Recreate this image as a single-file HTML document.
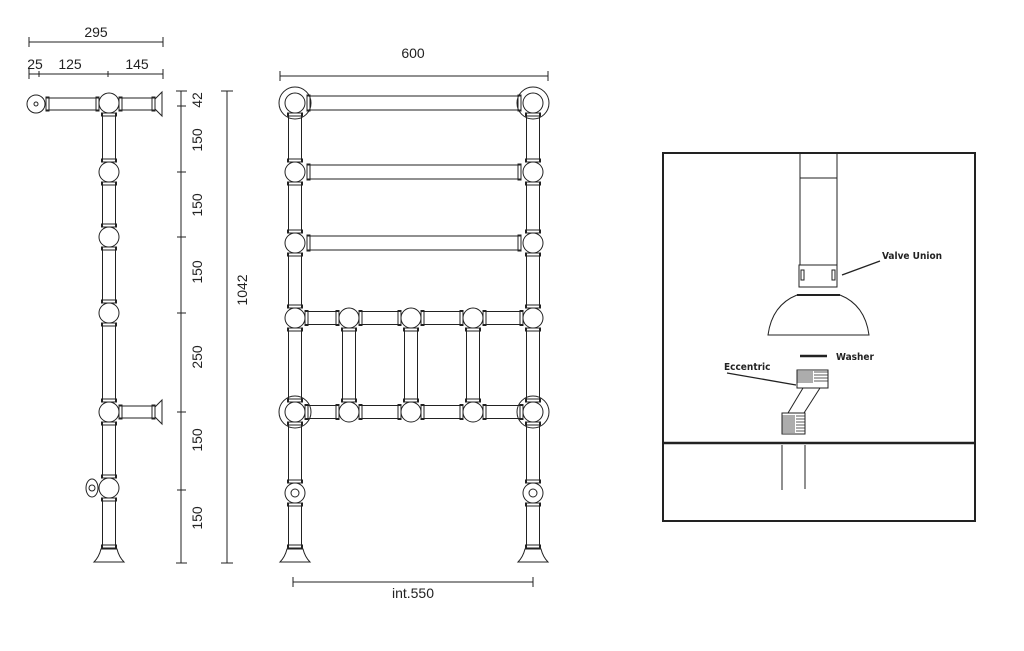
<!DOCTYPE html>
<html><head><meta charset="utf-8"><style>
html,body{margin:0;padding:0;background:#fff;}
svg{display:block;}
text{font-family:"Liberation Sans",sans-serif;fill:#222;}
.d{font-size:14px;}
.l{font-size:10px;font-weight:bold;font-family:"DejaVu Sans Condensed","Liberation Sans Narrow","Liberation Sans",sans-serif;}
</style></head><body>
<svg id="s" width="1024" height="651" viewBox="0 0 1024 651" xmlns="http://www.w3.org/2000/svg" fill="none" stroke="#222" stroke-width="1">
<line x1="29" y1="42" x2="163" y2="42"/><line x1="29" y1="37" x2="29" y2="47"/><line x1="163" y1="37" x2="163" y2="47"/>
<line x1="29" y1="74" x2="163" y2="74"/>
<line x1="29" y1="69" x2="29" y2="79"/><line x1="39" y1="71" x2="39" y2="77"/><line x1="108" y1="71" x2="108" y2="77"/><line x1="163" y1="69" x2="163" y2="79"/>
<text class="d" x="96" y="37" text-anchor="middle" stroke="none">295</text>
<text class="d" x="35" y="69" text-anchor="middle" stroke="none">25</text>
<text class="d" x="70" y="69" text-anchor="middle" stroke="none">125</text>
<text class="d" x="137" y="69" text-anchor="middle" stroke="none">145</text>
<line x1="181" y1="91" x2="181" y2="563"/>
<path d="M176 91H187M177 106H186M177 172H186M177 237H186M177 313H186M177 412H186M177 490H186M176 563H187"/>
<line x1="221" y1="91" x2="233" y2="91"/><line x1="227" y1="91" x2="227" y2="563"/><line x1="221" y1="563" x2="233" y2="563"/>
<g stroke="none" class="d">
<text transform="translate(202,100) rotate(-90)" text-anchor="middle">42</text>
<text transform="translate(202,140) rotate(-90)" text-anchor="middle">150</text>
<text transform="translate(202,205) rotate(-90)" text-anchor="middle">150</text>
<text transform="translate(202,272) rotate(-90)" text-anchor="middle">150</text>
<text transform="translate(202,357) rotate(-90)" text-anchor="middle">250</text>
<text transform="translate(202,440) rotate(-90)" text-anchor="middle">150</text>
<text transform="translate(202,518) rotate(-90)" text-anchor="middle">150</text>
<text transform="translate(247,290) rotate(-90)" text-anchor="middle">1042</text>
</g>
<line x1="280" y1="76" x2="548" y2="76"/><line x1="280" y1="71" x2="280" y2="81"/><line x1="548" y1="71" x2="548" y2="81"/>
<text class="d" x="413" y="58" text-anchor="middle" stroke="none">600</text>
<line x1="293" y1="582" x2="533" y2="582"/><line x1="293" y1="577" x2="293" y2="587"/><line x1="533" y1="577" x2="533" y2="587"/>
<text class="d" x="413" y="598" text-anchor="middle" stroke="none">int.550</text>
<rect x="663" y="153" width="312" height="368" stroke-width="2"/>
<line x1="663" y1="443" x2="975" y2="443" stroke-width="2.5"/>
<rect x="800" y="153" width="37" height="112"/><line x1="800" y1="178" x2="837" y2="178"/>
<rect x="799" y="265" width="38" height="22"/>
<rect x="801" y="270" width="3" height="10"/><rect x="832" y="270" width="3" height="10"/>
<line x1="797" y1="295" x2="840" y2="295" stroke-width="2"/>
<path d="M797 295 Q772 305 768 335 L869 335 Q865 305 840 295"/>
<line x1="800" y1="356" x2="827" y2="356" stroke-width="2.5"/>
<rect x="797" y="370" width="31" height="18"/>
<g stroke-width="0.8"><path d="M797 372H813M797 374H813M797 376H813M797 378H813M797 380H813M797 382H813M814 372H828M814 375H828M814 378H828M814 381H828"/>
<path d="M782 416H795M782 418H795M782 420H795M782 422H795M782 424H795M782 426H795M782 428H795M782 430H795M782 432H795M796 416H805M796 419H805M796 422H805M796 425H805M796 428H805M796 431H805"/></g>
<rect x="782" y="413" width="23" height="21"/>
<line x1="803" y1="388" x2="788" y2="413"/><line x1="820" y1="388" x2="804" y2="413"/>
<line x1="782" y1="445" x2="782" y2="490"/><line x1="805" y1="445" x2="805" y2="489"/>
<line x1="842" y1="275" x2="880" y2="261" stroke-width="1.3"/>
<line x1="727" y1="373" x2="796" y2="385" stroke-width="1.3"/>
<text class="l" x="882" y="259" stroke="none">Valve Union</text>
<text class="l" x="836" y="360" stroke="none">Washer</text>
<text class="l" x="724" y="370" stroke="none">Eccentric</text>
<g id="g"></g>
</svg>
<script>
var g=document.getElementById('g'),h='';
function R(x,y,w,hh){h+='<rect x="'+x+'" y="'+y+'" width="'+w+'" height="'+hh+'"/>';}
function C(x,y,r){h+='<circle cx="'+x+'" cy="'+y+'" r="'+r+'"/>';}
function vt(cx,y1,y2,w){R(cx-w/2,y1,w,y2-y1);R(cx-w/2-1,y1,w+2,3);R(cx-w/2-1,y2-3,w+2,3);}
function ht(cy,x1,x2,hh){R(x1,cy-hh/2,x2-x1,hh);R(x1,cy-hh/2-1,3,hh+2);R(x2-3,cy-hh/2-1,3,hh+2);}
function foot(cx,y){h+='<path d="M'+(cx-8)+' '+y+' Q'+(cx-10)+' '+(y+8)+' '+(cx-15)+' '+(y+13)+' L'+(cx+15)+' '+(y+13)+' Q'+(cx+10)+' '+(y+8)+' '+(cx+8)+' '+y+' Z"/>';}
var sx=109,balls=[103,172,237,313,412,488];
for(var i=0;i<balls.length-1;i++) vt(sx,balls[i]+10,balls[i+1]-10,13);
vt(sx,498,548,13);
balls.forEach(function(b){C(sx,b,10);});
foot(sx,549);
C(36,104,9);C(36,104,2);
ht(104,46,99,12);ht(104,119,155,12);
h+='<path d="M155 99 L162 92 L162 116 L155 109"/>';
ht(412,119,155,12);
h+='<path d="M155 407 L162 400 L162 424 L155 417"/>';
h+='<ellipse cx="92" cy="488" rx="6" ry="9"/>';C(92,488,3);
[295,533].forEach(function(x){
 var ys=[103,172,243,318,412,493];
 for(var i=0;i<ys.length-1;i++) vt(x,ys[i]+10,ys[i+1]-10,13);
 vt(x,503,548,13);
 ys.forEach(function(y){C(x,y,10);});
 C(x,103,16);C(x,412,16);C(x,493,4);
 foot(x,549);
});
[103,172,243].forEach(function(y){ht(y,307,521,14);});
[318,412].forEach(function(y){
 var xs=[295,349,411,473,533];
 for(var i=0;i<4;i++) ht(y,xs[i]+10,xs[i+1]-10,13);
});
[349,411,473].forEach(function(x){vt(x,328,402,13);C(x,318,10);C(x,412,10);});
g.innerHTML=h;
</script>
</body></html>
